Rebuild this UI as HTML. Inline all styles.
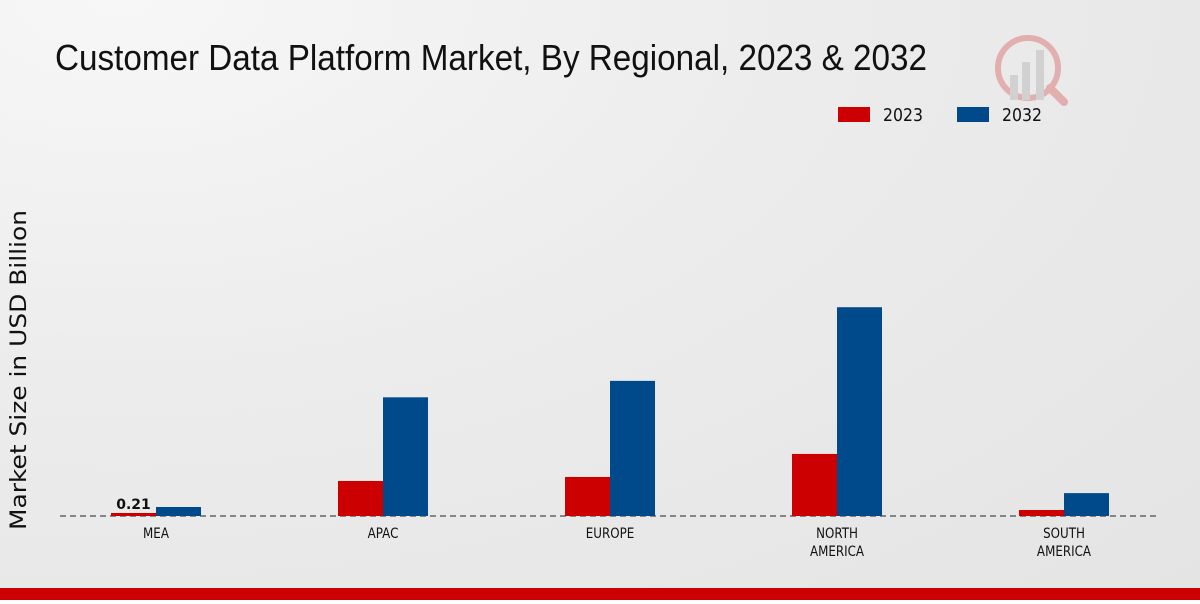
<!DOCTYPE html>
<html><head><meta charset="utf-8"><style>
body{margin:0;width:1200px;height:600px;overflow:hidden;font-family:"DejaVu Sans","Liberation Sans",sans-serif;}
#wrap{position:relative;width:1200px;height:600px;background:radial-gradient(ellipse at 10% 0%,#f7f7f7 0%,#ececec 45%,#e4e4e4 100%);}
</style></head><body>
<div id="wrap">
<svg id="chart" width="1200" height="600">
<text x="55" y="70" textLength="872" lengthAdjust="spacingAndGlyphs" font-family="'Liberation Sans',sans-serif" font-size="36" fill="#111">Customer Data Platform Market, By Regional, 2023 &amp; 2032</text>
<g opacity="0.25">
<circle cx="1028" cy="68" r="30" fill="none" stroke="#c00" stroke-width="6"/>
<rect x="1010" y="75" width="8" height="25" fill="#888"/><rect x="1022" y="62" width="8" height="38" fill="#888"/><rect x="1036" y="50" width="8" height="50" fill="#888"/>
<line x1="1050" y1="88" x2="1064" y2="102" stroke="#c00" stroke-width="8" stroke-linecap="round"/>
</g>
<g>
<rect x="838" y="107" width="32" height="15" fill="#cc0000"/>
<text x="883" y="121" textLength="40" lengthAdjust="spacingAndGlyphs" font-size="18" fill="#111">2023</text>
<rect x="957" y="107" width="32" height="15" fill="#004a8b"/>
<text x="1002" y="121" textLength="40" lengthAdjust="spacingAndGlyphs" font-size="18" fill="#111">2032</text>
</g>
<text transform="translate(26,370) rotate(-90)" text-anchor="middle" textLength="320" lengthAdjust="spacingAndGlyphs" font-size="22" fill="#111">Market Size in USD Billion</text>
<line x1="60" y1="516" x2="1160" y2="516" stroke="#222" stroke-dasharray="6,4"/>
<g id="bars"></g>
<rect x="0" y="588" width="1200" height="12" fill="#cc0000"/>
</svg>
</div>
<script>
const categories=[["MEA"],["APAC"],["EUROPE"],["NORTH","AMERICA"],["SOUTH","AMERICA"]];
const values2023=[0.21,2.45,2.73,4.34,0.42];
const values2032=[0.63,8.3,9.45,14.6,1.6];
const valueLabels=["0.21","","","",""];
const ns="http://www.w3.org/2000/svg";
const g=document.getElementById("bars");
const base=516,pxPerUnit=14.3,x0=156,step=227,bw=45;
const y=v=>base-v*pxPerUnit;
const xc=i=>x0+i*step;
function mk(t,a){const e=document.createElementNS(ns,t);for(const k in a)e.setAttribute(k,a[k]);g.appendChild(e);return e;}
categories.forEach((c,i)=>{
 const r=mk("rect",{x:xc(i)-bw,y:y(values2023[i]),width:bw,height:base-y(values2023[i]),fill:"#cc0000"});
 
 
 const b=mk("rect",{x:xc(i),y:y(values2032[i]),width:bw,height:base-y(values2032[i]),fill:"#004a8b"});
 
 
 c.forEach((line,j)=>{
  const t=mk("text",{x:xc(i),y:538+j*18,"text-anchor":"middle","font-size":"14",fill:"#111","font-family":"'DejaVu Sans',sans-serif",transform:`translate(${xc(i)},0) scale(0.85,1) translate(${-xc(i)},0)`});
  t.textContent=line;
  
  
 });
 if(valueLabels[i]){
  const t=mk("text",{x:xc(i)-bw/2,y:y(values2023[i])-4,"text-anchor":"middle","font-size":"14","font-weight":"bold",fill:"#111"});
  t.textContent=valueLabels[i];
  
  
 }
});
</script>
</body></html>
